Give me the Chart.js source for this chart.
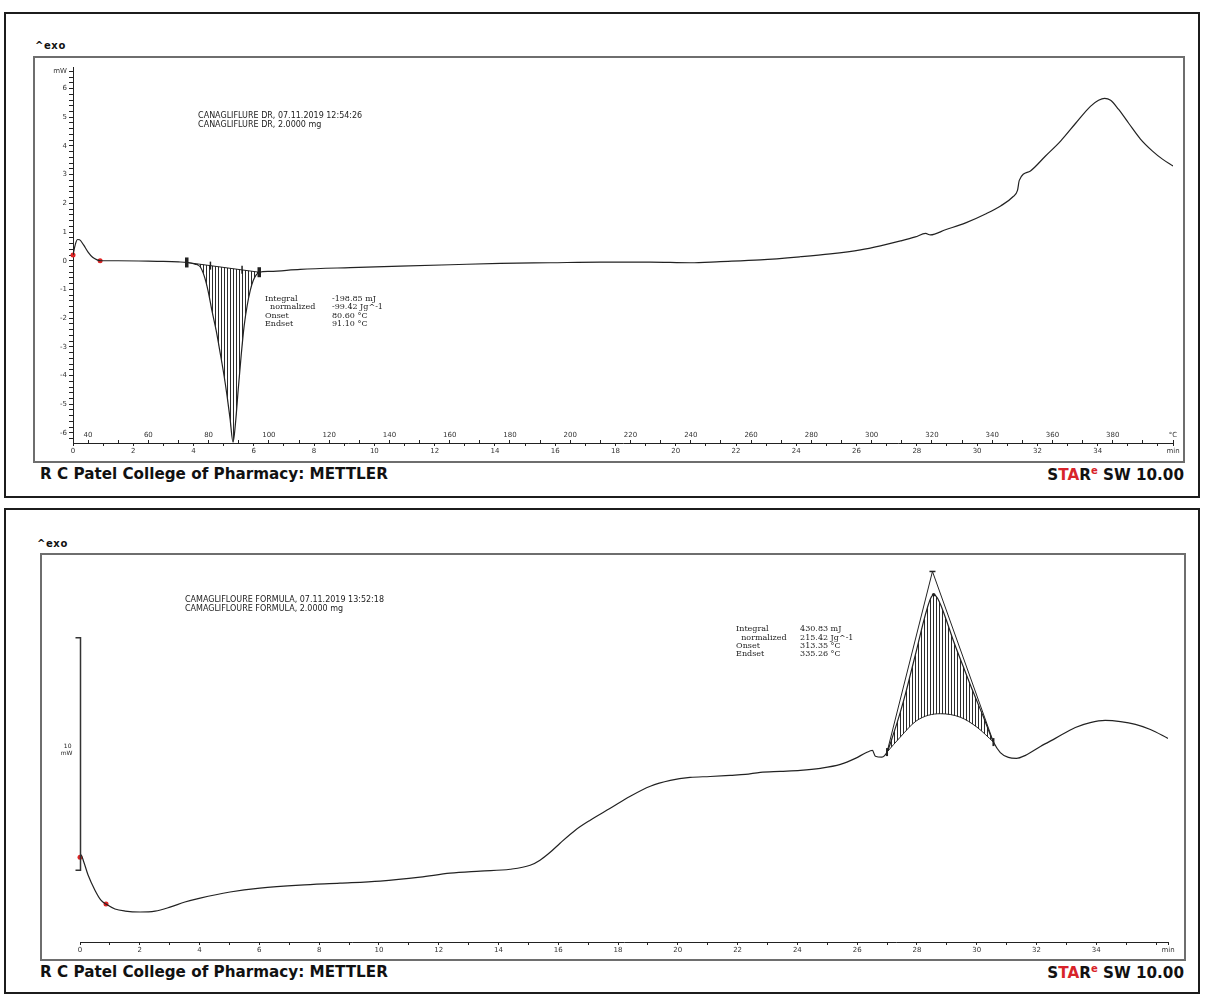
<!DOCTYPE html>
<html>
<head>
<meta charset="utf-8">
<script src="https://cdn.jsdelivr.net/npm/chart.js@4.4.1/dist/chart.umd.min.js"></script>
<style>
  body { margin: 0; background: #fff; width: 1207px; height: 998px; position: relative; overflow: hidden; }
  .panel { position: absolute; left: 4px; width: 1196px; height: 486px; border: 2px solid #1c1c1c; box-sizing: border-box; }
  .frame { position: absolute; border: 2px solid #6e6e6e; box-sizing: border-box; }
  .exo { position: absolute; font: bold 10px "DejaVu Sans", sans-serif; letter-spacing: 0.6px; color: #111; }
  .foot { position: absolute; font: bold 15.2px "DejaVu Sans", sans-serif; color: #111; white-space: nowrap; }
  .star { position: absolute; font: bold 15.2px "DejaVu Sans", sans-serif; color: #111; white-space: nowrap; text-align: right; }
  .star .r { color: #d8232a; }
  .star sup { color: #d8232a; font-size: 10px; }
  canvas { position: absolute; }
</style>
</head>
<body>

<div class="panel" style="top:12px"></div>
<div class="exo" style="left:35px; top:40px">^exo</div>
<div class="frame" style="left:33px; top:56px; width:1152px; height:407px"></div>
<canvas id="dscPure" width="1148" height="403" style="left:35px; top:58px"></canvas>
<div class="foot" style="left:40px; top:465px">R C Patel College of Pharmacy: METTLER</div>
<div class="star" style="right:23px; top:465px">S<span class="r">TA</span>R<sup>e</sup> SW 10.00</div>

<div class="panel" style="top:508px"></div>
<div class="exo" style="left:37px; top:538px">^exo</div>
<div class="frame" style="left:40px; top:553px; width:1146px; height:408px"></div>
<canvas id="dscFormula" width="1142" height="404" style="left:42px; top:555px"></canvas>
<div class="foot" style="left:40px; top:963px">R C Patel College of Pharmacy: METTLER</div>
<div class="star" style="right:23px; top:963px">S<span class="r">TA</span>R<sup>e</sup> SW 10.00</div>

<script>
  // ---- pure drug run: heat flow (mW) against time (min) ----
  const tPure = [0.00, 0.05, 0.10, 0.15, 0.22, 0.35, 0.50, 0.65, 0.80, 0.90, 1.50, 2.50, 3.00, 3.50,
    3.775, 4.05, 4.22, 4.35, 4.48, 4.61, 4.75, 4.88, 5.01, 5.11, 5.21, 5.31, 5.40, 5.48, 5.58, 5.68,
    5.78, 5.88, 5.98, 6.08, 6.18, 6.54, 7.54, 9.20, 10.86, 12.52, 14.18, 15.84, 17.50, 19.16, 20.48,
    21.48, 22.81, 24.14, 25.13, 26.13, 26.79, 27.46, 27.95, 28.29, 28.45, 28.95, 29.62, 30.28, 30.78,
    31.18, 31.34, 31.40, 31.77, 32.27, 32.77, 33.27, 33.76, 34.03, 34.23, 34.43, 34.69, 35.03, 35.42,
    35.82, 36.15, 36.50];
  const mwPure = [0.20, 0.45, 0.65, 0.74, 0.73, 0.55, 0.30, 0.12, 0.03, 0.00, 0.00, -0.01, -0.02, -0.04,
    -0.06, -0.12, -0.21, -0.52, -1.04, -1.74, -2.43, -3.19, -3.99, -4.69, -5.49, -6.32, -5.56, -4.51, -3.30, -2.26,
    -1.56, -1.04, -0.69, -0.49, -0.40, -0.37, -0.30, -0.24, -0.19, -0.14, -0.09, -0.07, -0.05, -0.05, -0.07,
    -0.03, 0.03, 0.14, 0.24, 0.38, 0.52, 0.69, 0.83, 0.95, 0.90, 1.08, 1.32, 1.63, 1.91,
    2.22, 2.45, 2.80, 3.13, 3.65, 4.17, 4.79, 5.38, 5.59, 5.66, 5.59, 5.28, 4.79, 4.24,
    3.82, 3.54, 3.30];
  // melting endotherm: integration limits (baseline), onset / endset
  const meltBaseT = [3.775, 6.18];
  const meltBaseMw = [-0.06, -0.40];
  const meltEdgeT = [4.56, 5.61];
  const meltEdgeMw = [-0.17, -0.31];
  const pureStartT = [0.00, 0.90];
  const pureStartMw = [0.20, 0.00];
  const pureText = ['CANAGLIFLURE DR, 07.11.2019 12:54:26', 'CANAGLIFLURE DR, 2.0000 mg'];
  const pureResult = [['Integral', '-198.85 mJ'], ['  normalized', '-99.42 Jg^-1'], ['Onset', '80.60 °C'], ['Endset', '91.10 °C']];

  // ---- formulation run ----
  const tForm = [0.00, 0.03, 0.13, 0.27, 0.50, 0.70, 0.87, 1.17, 1.51, 2.01, 2.51, 3.01, 3.51, 4.02,
    5.02, 6.02, 7.36, 8.70, 10.04, 11.38, 12.38, 13.39, 14.39, 15.06, 15.39, 15.73, 16.06, 16.57,
    17.07, 17.74, 18.41, 19.08, 19.75, 20.41, 21.08, 21.75, 22.26, 22.76, 23.43, 24.10, 24.77, 25.44,
    25.94, 26.31, 26.51, 26.61, 26.83, 27.00, 27.21, 27.44, 27.61, 27.78, 28.00, 28.21, 28.35, 28.45,
    28.56, 28.68, 28.82, 28.98, 29.22, 29.55, 29.89, 30.22, 30.56, 30.79, 31.06, 31.33, 31.63, 32.13, 32.63,
    33.30, 33.80, 34.30, 34.81, 35.31, 35.81, 36.40];
  const mwForm = [0.56, 0.66, 0.34, -0.21, -0.86, -1.29, -1.46, -1.67, -1.76, -1.80, -1.76, -1.59, -1.37, -1.20,
    -0.94, -0.77, -0.64, -0.56, -0.47, -0.30, -0.13, -0.04, 0.04, 0.21, 0.43, 0.77, 1.16, 1.72,
    2.15, 2.66, 3.18, 3.61, 3.86, 3.99, 4.03, 4.08, 4.12, 4.21, 4.25, 4.29, 4.38, 4.55,
    4.81, 5.06, 5.15, 4.90, 4.86, 5.08, 5.84, 6.78, 7.55, 8.41, 9.53, 10.64, 11.29, 11.67,
    11.85, 11.72, 11.33, 10.77, 9.87, 8.76, 7.64, 6.61, 5.51, 5.06, 4.85, 4.81, 4.94, 5.32, 5.67,
    6.14, 6.35, 6.44, 6.39, 6.27, 6.05, 5.67];
  // exotherm: spline baseline, tangent apex
  const exoBaseT = [27.00, 27.44, 28.00, 28.78, 29.45, 30.01, 30.56];
  const exoBaseMw = [5.08, 5.72, 6.44, 6.73, 6.58, 6.15, 5.51];
  const exoTangentT = [27.00, 28.52, 30.56];
  const exoTangentMw = [5.08, 12.85, 5.51];
  const exoPeakT = [28.56];
  const exoPeakMw = [11.85];
  const formStartT = [0.00, 0.87];
  const formStartMw = [0.56, -1.46];
  const barMw = 10;
  const formText = ['CAMAGLIFLOURE FORMULA, 07.11.2019 13:52:18', 'CAMAGLIFLOURE FORMULA, 2.0000 mg'];
  const formResult = [['Integral', '430.83 mJ'], ['  normalized', '215.42 Jg^-1'], ['Onset', '313.35 °C'], ['Endset', '335.26 °C']];

  // temperature program: T = T0 + rate * t
  const startTemp = 35;
  const heatRate = 10;

  const pts = (xs, ys) => xs.map((x, i) => ({x: x, y: ys[i]}));
  const between = (xs, ys, a, b) => pts(xs, ys).filter(p => p.x >= a - 1e-9 && p.x <= b + 1e-9);

  const hatch = (() => {
    const c = document.createElement('canvas');
    c.width = 3; c.height = 3;
    const g = c.getContext('2d');
    g.fillStyle = 'rgba(20,20,20,0.9)';
    g.fillRect(0, 0, 1, 3);
    return g.createPattern(c, 'repeat');
  })();

  const tickFont = {family: 'DejaVu Sans', size: 7};
  const ink = '#222';

  // free text blocks and the mW scale bar, placed through the chart scales
  const notesPlugin = {
    id: 'notes',
    afterDatasetsDraw(chart, args, opts) {
      const {ctx} = chart;
      const xs = chart.scales.x, ys = chart.scales.y;
      ctx.save();
      ctx.fillStyle = ink;
      ctx.textBaseline = 'middle';
      (opts.blocks || []).forEach(b => {
        const px = xs.getPixelForValue(b.t), py = ys.getPixelForValue(b.v);
        ctx.font = b.font;
        b.rows.forEach((r, i) => {
          const yy = py + i * b.lineHeight;
          if (typeof r === 'string') { ctx.fillText(r, px, yy); return; }
          ctx.fillText(r[0], px, yy);
          ctx.fillText(r[1], px + b.col, yy);
        });
      });
      const bar = opts.bar;
      if (bar) {
        const x = Math.round(xs.getPixelForValue(bar.t)) + 0.5;
        const y0 = ys.getPixelForValue(bar.from), y1 = ys.getPixelForValue(bar.from + bar.size);
        ctx.strokeStyle = '#333';
        ctx.lineWidth = 1.5;
        ctx.beginPath();
        ctx.moveTo(x - 5, y1); ctx.lineTo(x, y1); ctx.lineTo(x, y0); ctx.lineTo(x - 5, y0);
        ctx.stroke();
        ctx.font = '6px "DejaVu Sans"';
        ctx.textAlign = 'right';
        const mid = (y0 + y1) / 2;
        ctx.fillText(String(bar.size), x - 9, mid - 8);
        ctx.fillText('mW', x - 8, mid - 1);
      }
      ctx.restore();
    }
  };

  function timeAxis(tMax, height) {
    return {
      type: 'linear', min: 0, max: tMax,
      afterBuildTicks: s => {
        s.ticks = [];
        for (let k = 0; k <= Math.floor(tMax); k++) s.ticks.push({value: k});
        s.ticks.push({value: tMax});
      },
      ticks: {
        autoSkip: false, maxRotation: 0, padding: 1, font: tickFont, color: '#333',
        callback: v => v === tMax ? 'min' : (v % 2 === 0 && v < tMax - 2 ? String(v) : '')
      },
      grid: {drawOnChartArea: false, tickLength: 3, color: ink},
      border: {color: ink, width: 1},
      afterFit: s => { s.height = height; }
    };
  }

  const lineDefaults = {
    pointRadius: 0, borderWidth: 1.2, borderColor: ink, fill: false,
    cubicInterpolationMode: 'monotone', xAxisID: 'x', yAxisID: 'y'
  };
  const markers = (data, style) => Object.assign({
    type: 'line', data: data, showLine: false, xAxisID: 'x', yAxisID: 'y', clip: false
  }, style);

  // pure drug chart
  const tMaxPure = 36.5, mwMinPure = -6.35, mwMaxPure = 6.75;
  new Chart('dscPure', {
    type: 'line',
    data: {
      datasets: [
        Object.assign({}, lineDefaults, {data: pts(tPure, mwPure)}),
        Object.assign({}, lineDefaults, {
          data: between(tPure, mwPure, meltBaseT[0], meltBaseT[1]),
          borderColor: 'transparent', borderWidth: 0, backgroundColor: hatch, fill: {target: 2}
        }),
        Object.assign({}, lineDefaults, {data: pts(meltBaseT, meltBaseMw), borderWidth: 1, cubicInterpolationMode: 'default', tension: 0}),
        markers(pts(meltBaseT, meltBaseMw), {pointStyle: 'line', rotation: 90, pointRadius: 5, pointBorderWidth: 3.5, pointBorderColor: ink}),
        markers(pts(meltEdgeT, meltEdgeMw), {pointStyle: 'line', rotation: 90, pointRadius: 4, pointBorderWidth: 1.5, pointBorderColor: ink}),
        markers(pts(pureStartT, pureStartMw), {pointStyle: 'circle', pointRadius: 2.5, pointBorderWidth: 0, pointBackgroundColor: '#e02424'})
      ]
    },
    options: {
      responsive: false, animation: false, devicePixelRatio: 1,
      layout: {padding: {top: 9, right: 10, left: 0, bottom: 0}},
      scales: {
        x: timeAxis(tMaxPure, 18),
        temp: {
          type: 'linear', axis: 'x', position: {y: mwMinPure},
          min: startTemp, max: startTemp + heatRate * tMaxPure,
          afterBuildTicks: s => {
            s.ticks = [];
            for (let T = 40; T < s.max; T += 10) s.ticks.push({value: T});
            s.ticks.push({value: s.max});
          },
          ticks: {
            autoSkip: false, maxRotation: 0, padding: -9, font: tickFont, color: '#333',
            callback: function (v) { return v === this.max ? '°C' : (v % 20 === 0 ? String(v) : ''); }
          },
          grid: {drawOnChartArea: false, tickLength: -3, color: ink},
          border: {display: false}
        },
        y: {
          type: 'linear', min: mwMinPure, max: mwMaxPure,
          afterBuildTicks: s => {
            s.ticks = [];
            for (let k = -31; k <= 33; k++) s.ticks.push({value: k / 5});
          },
          ticks: {
            autoSkip: false, padding: 2, font: tickFont, color: '#333',
            callback: v => {
              if (Math.abs(v - 6.6) < 1e-6) return 'mW';
              return Math.abs(v - Math.round(v)) < 1e-6 ? String(Math.round(v)) : '';
            }
          },
          grid: {drawOnChartArea: false, tickLength: 4, color: ink},
          border: {color: ink, width: 1},
          afterFit: s => { s.width = 38; }
        }
      },
      plugins: {
        legend: {display: false},
        tooltip: {enabled: false},
        notes: {
          blocks: [
            {t: 4.15, v: 5.03, rows: pureText, font: '8px "DejaVu Sans"', lineHeight: 9},
            {t: 6.37, v: -1.32, rows: pureResult, font: '8px "DejaVu Serif"', lineHeight: 8.4, col: 67}
          ]
        }
      }
    },
    plugins: [notesPlugin]
  });

  // formulation chart
  const tMaxForm = 36.4, mwMinForm = -3.09, mwMaxForm = 13.3;
  new Chart('dscFormula', {
    type: 'line',
    data: {
      datasets: [
        Object.assign({}, lineDefaults, {data: pts(tForm, mwForm)}),
        Object.assign({}, lineDefaults, {
          data: between(tForm, mwForm, exoBaseT[0], exoBaseT[exoBaseT.length - 1]),
          borderColor: 'transparent', borderWidth: 0, backgroundColor: hatch, fill: {target: 2}
        }),
        Object.assign({}, lineDefaults, {data: pts(exoBaseT, exoBaseMw), borderWidth: 1}),
        Object.assign({}, lineDefaults, {data: pts(exoTangentT, exoTangentMw), borderWidth: 1, cubicInterpolationMode: 'default', tension: 0}),
        markers(pts([exoBaseT[0], exoBaseT[exoBaseT.length - 1]], [exoBaseMw[0], exoBaseMw[exoBaseMw.length - 1]]),
          {pointStyle: 'line', rotation: 90, pointRadius: 4, pointBorderWidth: 2, pointBorderColor: ink}),
        markers(pts([exoTangentT[1]], [exoTangentMw[1]]), {pointStyle: 'line', pointRadius: 3, pointBorderWidth: 1.5, pointBorderColor: ink}),
        markers(pts(exoPeakT, exoPeakMw), {pointStyle: 'circle', pointRadius: 1.8, pointBorderWidth: 0, pointBackgroundColor: ink}),
        markers(pts(formStartT, formStartMw), {pointStyle: 'circle', pointRadius: 2.5, pointBorderWidth: 0, pointBackgroundColor: '#e02424'})
      ]
    },
    options: {
      responsive: false, animation: false, devicePixelRatio: 1,
      layout: {padding: {top: 5, right: 16, left: 38, bottom: 0}},
      scales: {
        x: timeAxis(tMaxForm, 17),
        y: {type: 'linear', display: false, min: mwMinForm, max: mwMaxForm}
      },
      plugins: {
        legend: {display: false},
        tooltip: {enabled: false},
        notes: {
          blocks: [
            {t: 3.51, v: 11.63, rows: formText, font: '8px "DejaVu Sans"', lineHeight: 9},
            {t: 21.95, v: 10.37, rows: formResult, font: '8px "DejaVu Serif"', lineHeight: 8.4, col: 64}
          ],
          bar: {t: 0, from: 0, size: barMw}
        }
      }
    },
    plugins: [notesPlugin]
  });
</script>
</body>
</html>
